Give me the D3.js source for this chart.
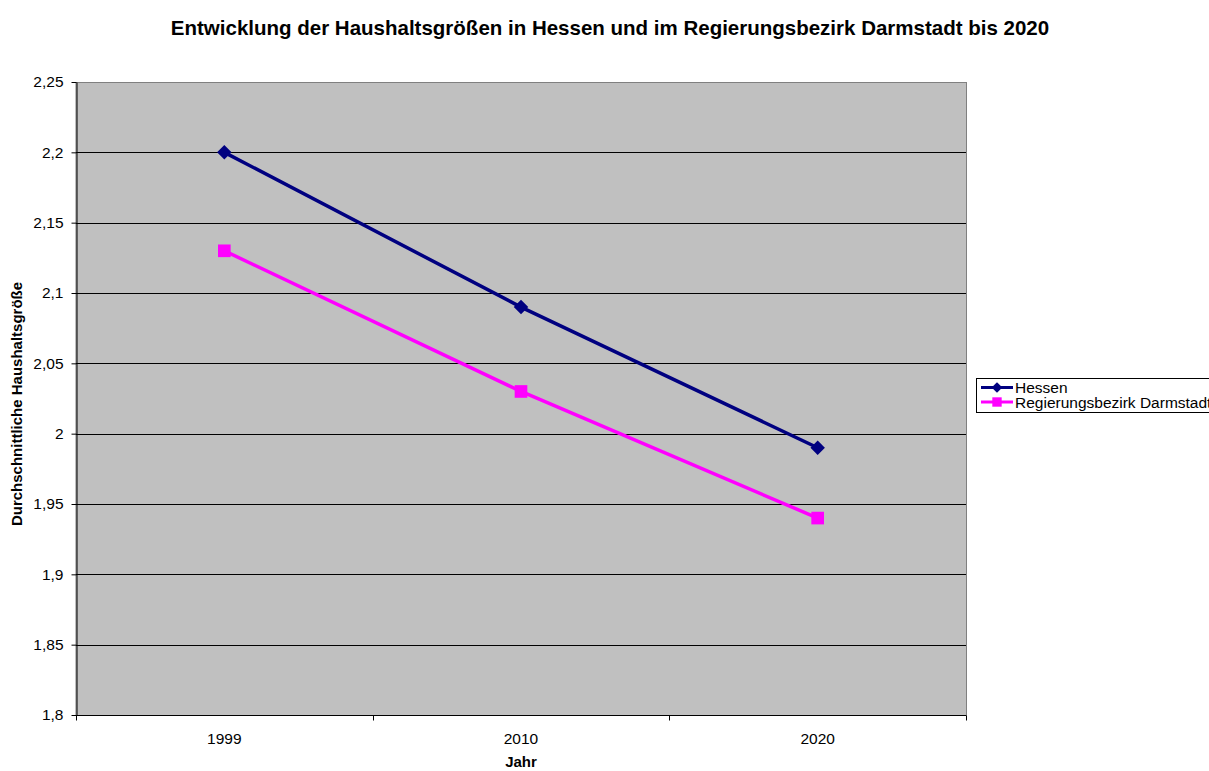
<!DOCTYPE html>
<html>
<head>
<meta charset="utf-8">
<script src="https://cdn.jsdelivr.net/npm/d3@7"></script>
<style>
  body { margin: 0; background: #fff; }
  svg { display: block; font-family: "Liberation Sans", Arial, sans-serif; }
</style>
</head>
<body>
<div id="chart"></div>
<script>
const years = ["1999", "2010", "2020"];
const hessen = [2.2, 2.09, 1.99];
const darmstadt = [2.13, 2.03, 1.94];
const yTicks = [1.8, 1.85, 1.9, 1.95, 2, 2.05, 2.1, 2.15, 2.2, 2.25];
const seriesNames = ["Hessen", "Regierungsbezirk Darmstadt"];

const width = 1209, height = 771;
const plot = { left: 76, top: 82, right: 966, bottom: 715 };

const svg = d3.select("#chart").append("svg")
  .attr("width", width)
  .attr("height", height);

const x = d3.scaleBand().domain(years).range([plot.left, plot.right]);
const y = d3.scaleLinear().domain([1.8, 2.25]).range([plot.bottom, plot.top]);
const fmt = d => String(d).replace(".", ",");

// Hintergrund der Zeichenfläche
svg.append("rect")
  .attr("x", plot.left).attr("y", plot.top + 0.5)
  .attr("width", plot.right - plot.left + 0.5).attr("height", plot.bottom - plot.top)
  .attr("fill", "#c0c0c0")
  .attr("stroke", "#808080");

// Gitterlinien
svg.append("g")
  .selectAll("line")
  .data(yTicks.slice(1, -1))
  .join("line")
  .attr("x1", plot.left).attr("x2", plot.right)
  .attr("y1", d => Math.round(y(d)) + 0.5).attr("y2", d => Math.round(y(d)) + 0.5)
  .attr("stroke", "#000").attr("stroke-width", 1);

// Y-Achse
const yAxis = svg.append("g")
  .attr("transform", `translate(${plot.left + 0.5},0)`)
  .call(d3.axisLeft(y).tickValues(yTicks).tickFormat(fmt).tickSize(5).tickSizeOuter(0));
yAxis.attr("font-size", null).attr("font-family", null);
yAxis.select(".domain").attr("stroke", "#000");
yAxis.selectAll("text").attr("font-size", 15.5).attr("fill", "#000").attr("dx", "-5");

// X-Achse: Ticks an den Kategoriegrenzen
const xg = svg.append("g").attr("transform", `translate(0,${plot.bottom + 0.5})`);
xg.append("line")
  .attr("x1", plot.left).attr("x2", plot.right)
  .attr("stroke", "#000");
const bounds = years.map(d => x(d)).concat([x.range()[1]]);
xg.selectAll("line.tick")
  .data(bounds)
  .join("line")
  .attr("class", "tick")
  .attr("x1", d => Math.round(d) + 0.5).attr("x2", d => Math.round(d) + 0.5)
  .attr("y1", 0).attr("y2", 5)
  .attr("stroke", "#000");
xg.selectAll("text")
  .data(years)
  .join("text")
  .attr("x", d => x(d) + x.bandwidth() / 2)
  .attr("y", 28.5)
  .attr("text-anchor", "middle")
  .attr("font-size", 15.5)
  .text(d => d);

// Linien und Markierungen
const line = d3.line().x((d, i) => x(years[i]) + x.bandwidth() / 2).y(d => y(d));
const series = [
  { name: seriesNames[0], values: hessen, color: "#000080", size: 105, rot: 45 },
  { name: seriesNames[1], values: darmstadt, color: "#ff00ff", size: 160, rot: 0 }
];

series.forEach(s => {
  svg.append("path")
    .datum(s.values)
    .attr("d", line)
    .attr("fill", "none")
    .attr("stroke", s.color)
    .attr("stroke-width", 3.5);
  svg.append("g")
    .selectAll("path")
    .data(s.values)
    .join("path")
    .attr("transform", (d, i) => `translate(${x(years[i]) + x.bandwidth() / 2},${y(d)}) rotate(${s.rot})`)
    .attr("d", d3.symbol().type(d3.symbolSquare).size(s.size))
    .attr("fill", s.color);
});

// Titel
svg.append("text")
  .attr("x", 610).attr("y", 35)
  .attr("text-anchor", "middle")
  .attr("font-size", 20.5).attr("font-weight", "bold")
  .text("Entwicklung der Haushaltsgrößen in Hessen und im Regierungsbezirk Darmstadt bis 2020");

// Achsentitel
svg.append("text")
  .attr("x", 521).attr("y", 767)
  .attr("text-anchor", "middle")
  .attr("font-size", 15).attr("font-weight", "bold")
  .text("Jahr");

svg.append("text")
  .attr("transform", "translate(22,404) rotate(-90)")
  .attr("text-anchor", "middle")
  .attr("font-size", 15).attr("font-weight", "bold")
  .text("Durchschnittliche Haushaltsgröße");

// Legende
const lg = svg.append("g").attr("transform", "translate(976,378)");
lg.append("rect")
  .attr("x", 0.5).attr("y", 0.5)
  .attr("width", 260).attr("height", 34)
  .attr("fill", "#fff").attr("stroke", "#000");
series.forEach((s, i) => {
  const cy = 9.5 + i * 14.5;
  lg.append("line")
    .attr("x1", 5).attr("x2", 37)
    .attr("y1", cy).attr("y2", cy)
    .attr("stroke", s.color).attr("stroke-width", 3);
  lg.append("path")
    .attr("transform", `translate(21,${cy}) rotate(${s.rot})`)
    .attr("d", d3.symbol().type(d3.symbolSquare).size(s.size * 0.55))
    .attr("fill", s.color);
  lg.append("text")
    .attr("x", 39).attr("y", cy + 5.5)
    .attr("font-size", 15.5)
    .text(s.name);
});
</script>
</body>
</html>
